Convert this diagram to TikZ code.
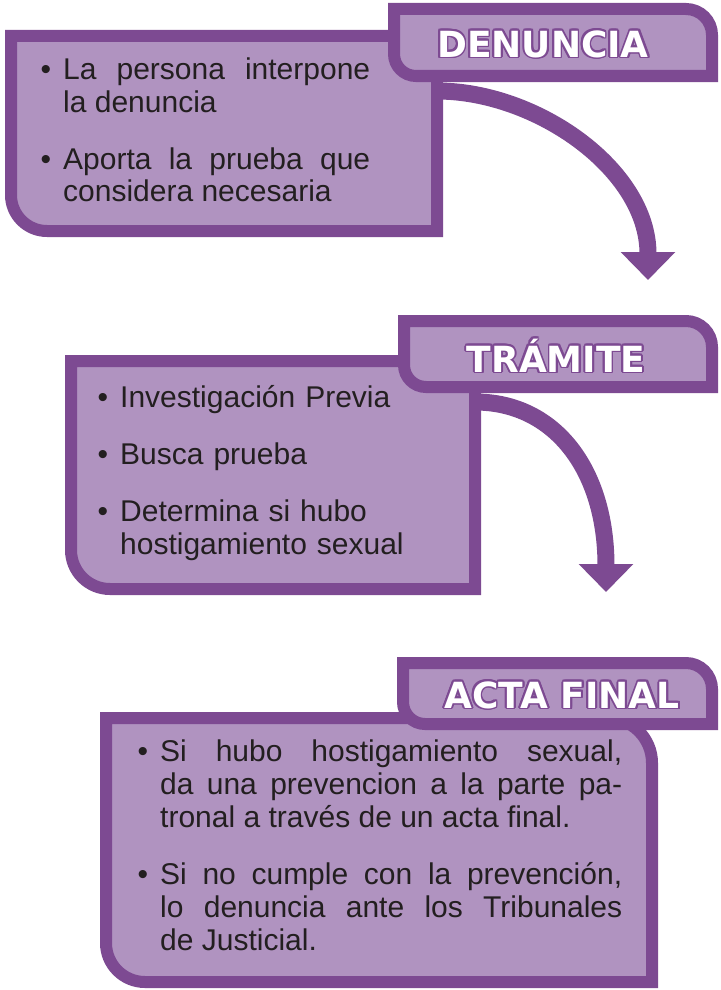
\documentclass[tikz,border=0pt]{standalone}
\usepackage{fontspec}
\setmainfont{Liberation Sans}
\newfontfamily\tabfont{DejaVu Sans}
\usepackage{contour}
\usepackage{tikz}
\usetikzlibrary{arrows.meta}
\definecolor{lila}{RGB}{125,74,146}
\definecolor{lilaclaro}{RGB}{176,147,192}
\definecolor{texto}{RGB}{35,31,32}
\contourlength{1.8pt}
\newcommand{\punto}{\leavevmode\llap{\textbullet\hspace{12pt}}}

\begin{document}
\begin{tikzpicture}[x=1pt,y=-1pt,
	caja/.style={draw=lila,fill=lilaclaro,line width=12pt},
	flecha/.style={draw=lila,line width=17pt,-{Triangle[width=53pt,length=28pt]}},
	titulo/.style={font=\tabfont\bfseries\fontsize{36}{40}\selectfont,text=white,anchor=base,inner sep=0pt},
	lista/.style={font=\fontsize{30}{33}\selectfont,text=texto,inner sep=0pt,anchor=base west,
		execute at begin node={\setlength{\parskip}{24pt}\setlength{\parindent}{0pt}}}]
\useasboundingbox (0,0) rectangle (720,990);

\draw[caja] (11,36) -- (437,36) -- (437,231) -- (47,231) arc[start angle=90,end angle=180,radius=36] -- cycle;
\draw[caja] (394,9) -- (686,9) arc[start angle=270,end angle=360,radius=26] -- (712,76) -- (416,76) arc[start angle=90,end angle=180,radius=22] -- cycle;
\node[titulo] (denuncia) at (543,57) {\contour{lila}{DENUNCIA}};
\node[lista,text width=307pt,align=justify] (txtdenuncia) at (63,79) {\punto La persona interpone\linebreak la denuncia\par
	\punto Aporta la prueba que\linebreak considera necesaria};

\draw[caja] (71,361) -- (475,361) -- (475,589) -- (110,589) arc[start angle=90,end angle=180,radius=39] -- cycle;
\draw[caja] (404,321) -- (686,321) arc[start angle=270,end angle=360,radius=26] -- (712,387) -- (426,387) arc[start angle=90,end angle=180,radius=22] -- cycle;
\node[titulo] (tramite) at (556,372) {\contour{lila}{TRÁMITE}};
\node[lista,text width=340pt,align=left] (txttramite) at (120,407) {\punto Investigación Previa\par
	\punto Busca prueba\par
	\punto Determina si hubo\\ hostigamiento sexual};

\draw[caja] (106,718) -- (607,718) arc[start angle=270,end angle=360,radius=45] -- (652,982) -- (145,982) arc[start angle=90,end angle=180,radius=39] -- cycle;
\draw[caja] (403,663) -- (686,663) arc[start angle=270,end angle=360,radius=26] -- (712,724) -- (425,724) arc[start angle=90,end angle=180,radius=22] -- cycle;
\node[titulo] (actafinal) at (562,708) {\contour{lila}{ACTA FINAL}};
\node[lista,text width=462pt,align=justify] (txtacta) at (160,761) {\punto Si hubo hostigamiento sexual,\linebreak da una prevencion a la parte pa-\linebreak tronal a través de un acta final.\par
	\punto Si no cumple con la prevención,\linebreak lo denuncia ante los Tribunales\linebreak de Justicial.};

\coordinate (sal1) at (437,91);
\coordinate (lleg1) at (648,280);
\coordinate (sal2) at (475,402);
\coordinate (lleg2) at (606,592);
\draw[flecha] (sal1) .. controls +(100,0) and +(0,-110) .. (lleg1);
\draw[flecha] (sal2) .. controls +(80,0) and +(0,-122) .. (lleg2);
\end{tikzpicture}
\end{document}
